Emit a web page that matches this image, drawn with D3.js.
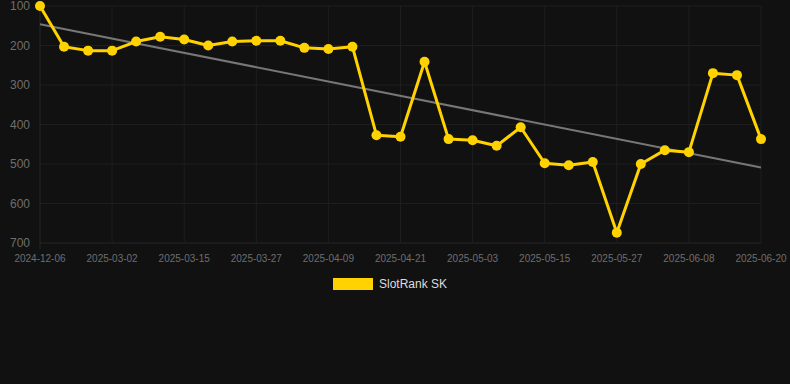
<!DOCTYPE html>
<html>
<head>
<meta charset="utf-8">
<script src="https://cdn.jsdelivr.net/npm/d3@7"></script>
<style>
  html, body { margin: 0; padding: 0; background: #111111; }
  #chart { width: 790px; height: 384px; }
</style>
</head>
<body>
<div id="chart"></div>
<script>
// Categories (dates) and values
const dates = [
  "2024-12-06", "2025-02-22", "2025-02-26", "2025-03-02", "2025-03-06", "2025-03-11",
  "2025-03-15", "2025-03-19", "2025-03-23", "2025-03-27", "2025-03-31", "2025-04-05",
  "2025-04-09", "2025-04-13", "2025-04-17", "2025-04-21", "2025-04-25", "2025-04-29",
  "2025-05-03", "2025-05-07", "2025-05-11", "2025-05-15", "2025-05-19", "2025-05-23",
  "2025-05-27", "2025-05-31", "2025-06-04", "2025-06-08", "2025-06-12", "2025-06-16",
  "2025-06-20"
];
const ranks = [
  100, 203, 213, 213, 190, 178, 185, 200, 190, 188, 188, 206,
  209, 203, 427, 431, 241, 437, 440, 454, 407, 498, 503, 495,
  674, 500, 465, 470, 270, 275, 437
];
const trendEnds = [146, 509];
const yTicks = [100, 200, 300, 400, 500, 600, 700];
const seriesName = "SlotRank SK";

const margin = {top: 6, right: 29, bottom: 141, left: 40},
width = 790 - margin.left - margin.right,
height = 384 - margin.top - margin.bottom;

const svg = d3.select("#chart")
.append("svg")
.attr("width", 790)
.attr("height", 384)
.style("font-family", "Arial, 'Liberation Sans', sans-serif");

svg.append("rect").attr("width", 790).attr("height", 384).attr("fill", "#111111");

const g = svg.append("g")
.attr("transform", `translate(${margin.left},${margin.top})`);

const x = d3.scalePoint().domain(dates).range([0, width]);
const y = d3.scaleLinear().domain([100, 700]).range([0, height]);

// Grid lines
g.selectAll(".hgrid")
.data(yTicks)
.enter().append("line")
.attr("x1", 0).attr("x2", width)
.attr("y1", d => y(d)).attr("y2", d => y(d))
.attr("stroke", d => d === 700 ? "#262626" : "#1e1e1e").attr("stroke-width", 1);

const labelDates = dates.filter((d, i) => i % 3 === 0);
g.selectAll(".vgrid")
.data(labelDates)
.enter().append("line")
.attr("x1", d => x(d)).attr("x2", d => x(d))
.attr("y1", 0).attr("y2", (d, i) => i === 0 ? height + 6 : height)
.attr("stroke", (d, i) => i === 0 ? "#262626" : "#1e1e1e").attr("stroke-width", 1);

// Y axis labels
g.selectAll(".ylab")
.data(yTicks)
.enter().append("text")
.attr("x", -10).attr("y", d => y(d))
.attr("dy", "0.35em")
.attr("text-anchor", "end")
.attr("fill", "#6e6e6e")
.attr("font-size", 12)
.text(d => d);

// X axis labels
g.selectAll(".xlab")
.data(labelDates)
.enter().append("text")
.attr("x", d => x(d)).attr("y", height + 19)
.attr("text-anchor", "middle")
.attr("fill", "#6e6e6e")
.attr("font-size", 10)
.text(d => d);

// Trend line
g.append("line")
.attr("x1", x(dates[0])).attr("x2", x(dates[dates.length - 1]))
.attr("y1", y(trendEnds[0])).attr("y2", y(trendEnds[1]))
.attr("stroke", "#777777").attr("stroke-width", 2);

// Series line
const line = d3.line()
.x((d, i) => x(dates[i]))
.y(d => y(d));

g.append("path")
.datum(ranks)
.attr("d", line)
.attr("fill", "none")
.attr("stroke", "#ffd200")
.attr("stroke-width", 3)
.attr("stroke-linejoin", "round");

g.selectAll(".pt")
.data(ranks)
.enter().append("circle")
.attr("cx", (d, i) => x(dates[i]))
.attr("cy", d => y(d))
.attr("r", 5)
.attr("fill", "#ffd200");

// Legend
const legend = svg.append("g").attr("transform", "translate(333,278)");
legend.append("rect")
.attr("width", 40).attr("height", 12)
.attr("fill", "#ffd200");
legend.append("text")
.attr("x", 46).attr("y", 6).attr("dy", "0.35em")
.attr("fill", "#dddddd")
.attr("font-size", 12)
.text(seriesName);
</script>
</body>
</html>
